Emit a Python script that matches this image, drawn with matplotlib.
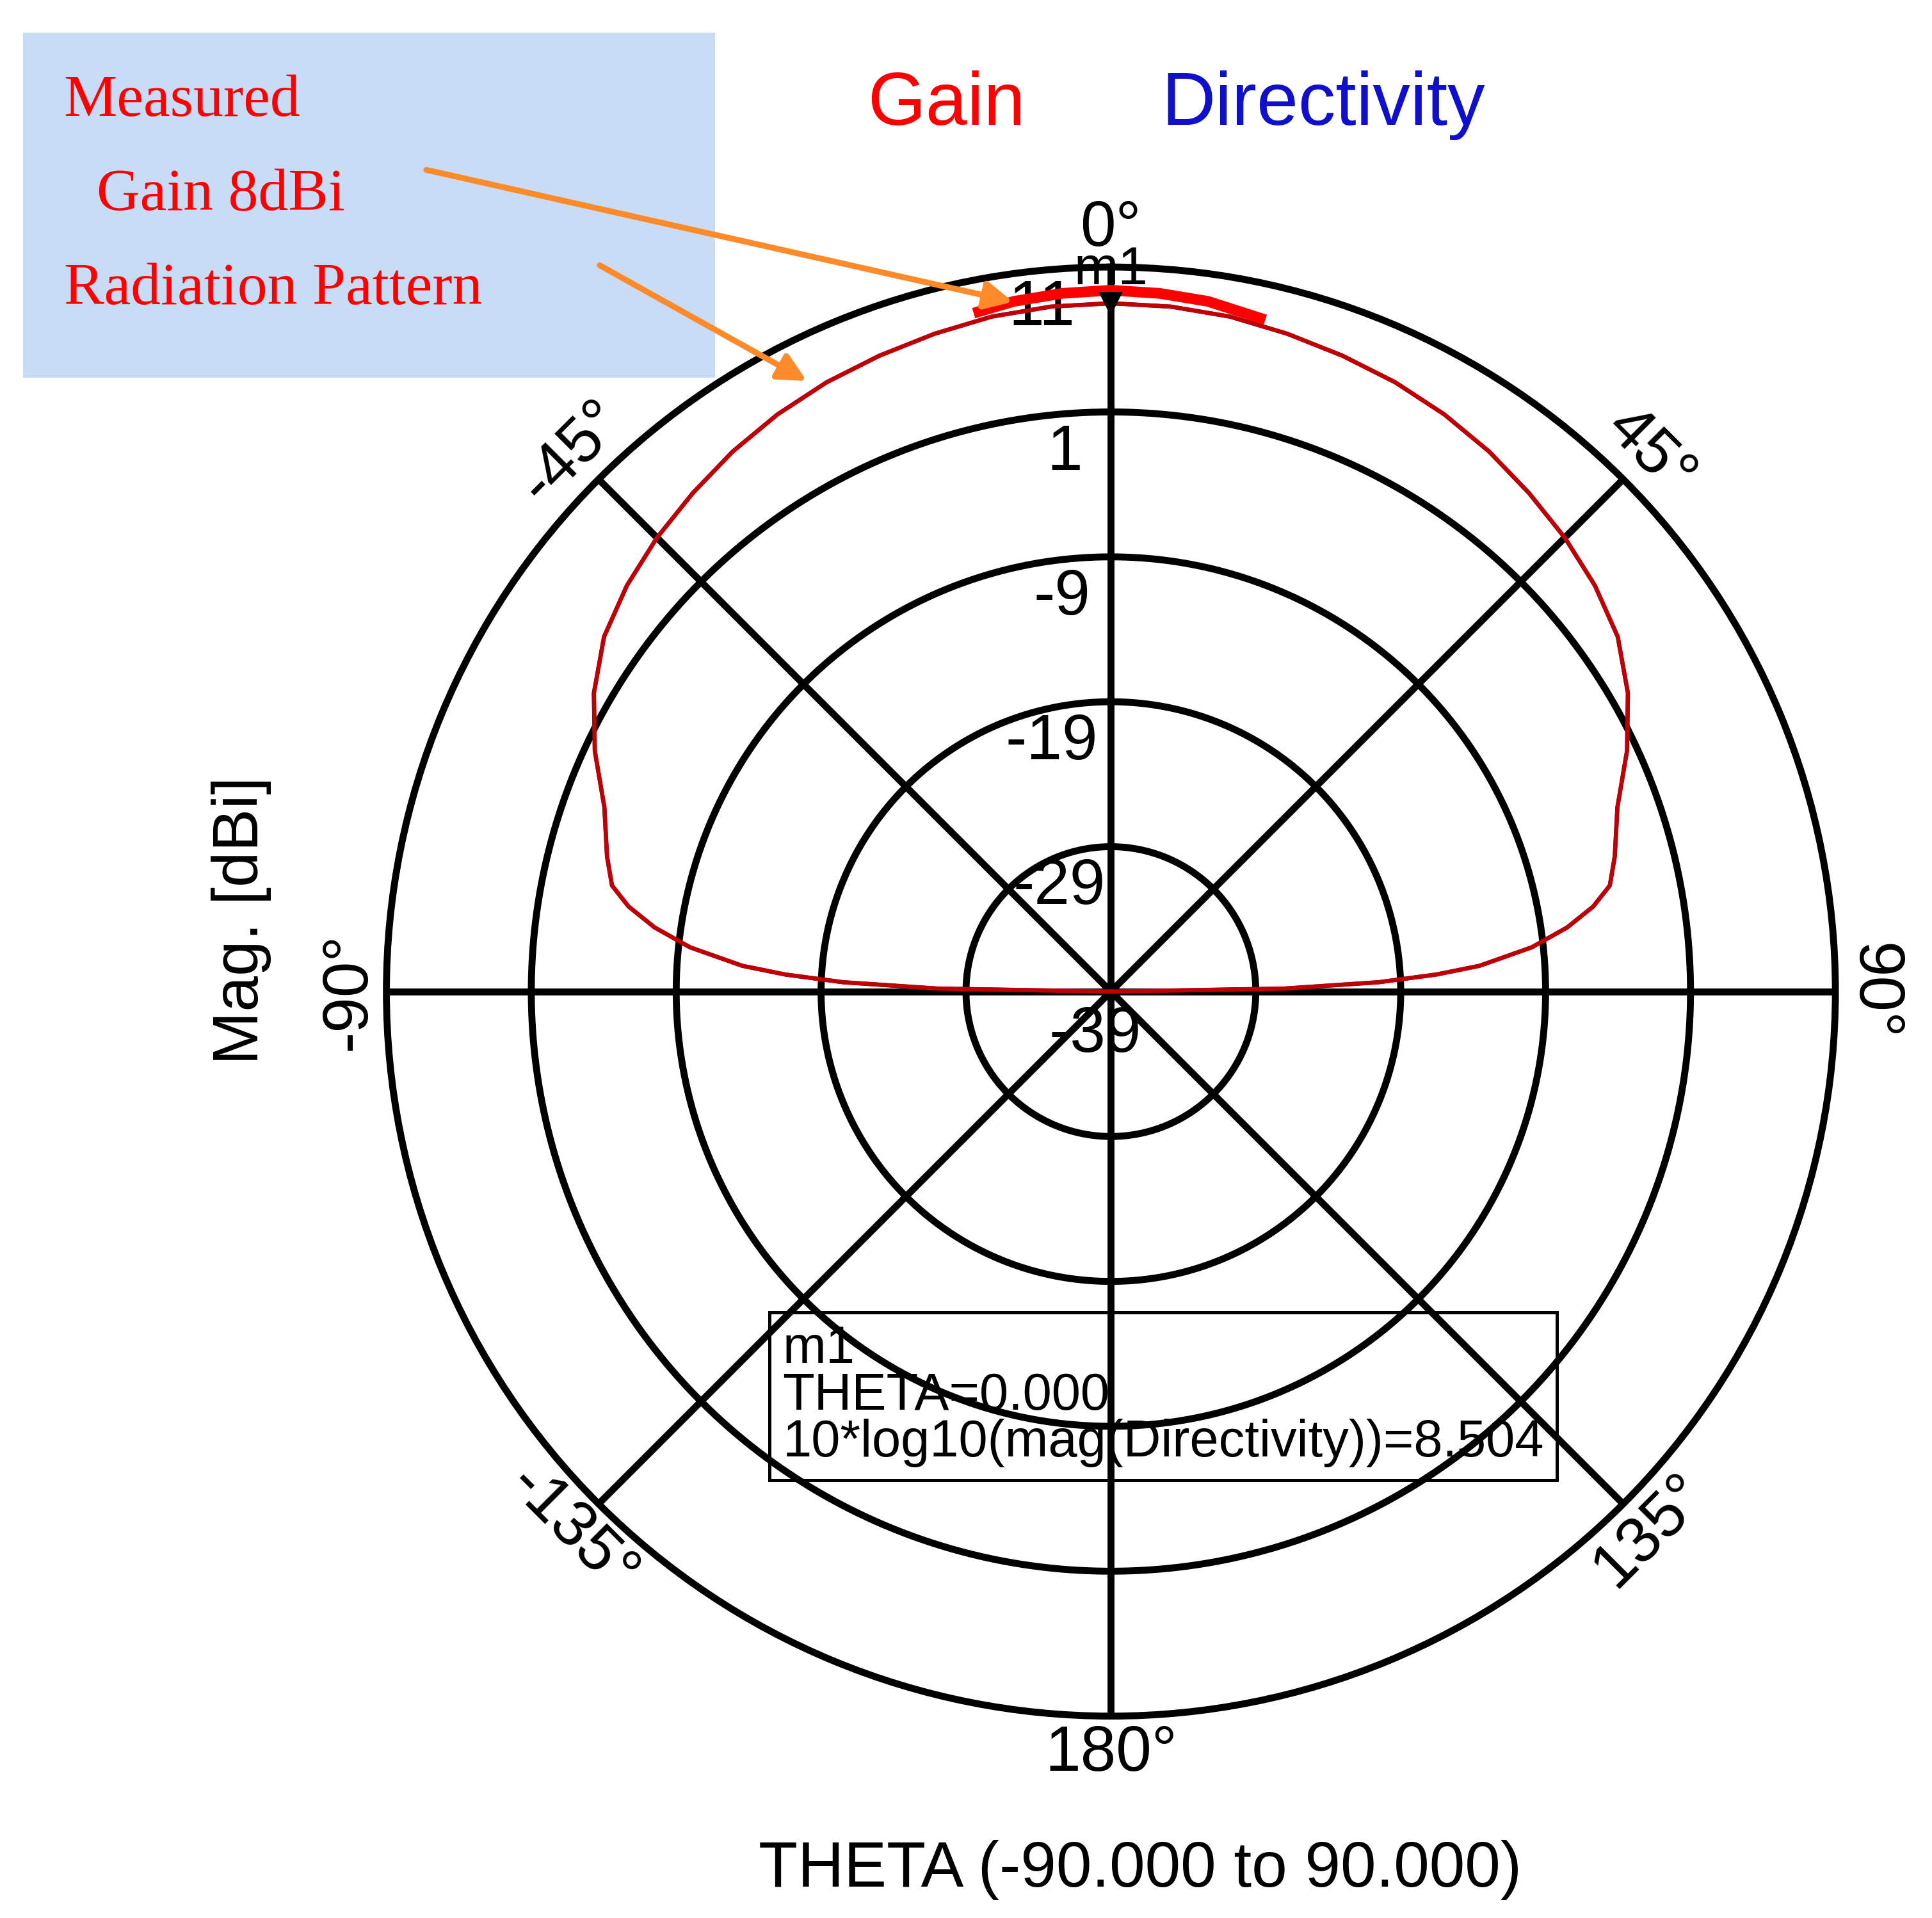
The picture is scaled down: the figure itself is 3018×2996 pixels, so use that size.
import numpy as np
import matplotlib.pyplot as plt
from matplotlib.patches import Rectangle, FancyArrowPatch

# pattern (theta in deg, magnitude in dBi), symmetric half
half_theta = [0, 5, 10, 15, 20, 25, 30, 35, 40, 45, 50, 55, 60, 65, 70, 75, 78,
              80, 82, 84, 86, 87, 88, 89, 90]
half_mag = [8.5, 8.45, 8.3, 8.0, 7.7, 7.4, 7.0, 6.5, 5.9, 5.3, 4.6, 3.7, 2.2, 0.3, -1.8,
            -3.0, -3.8, -5.2, -7.2, -9.8, -13.5, -16.5, -20.5, -27, -39]
theta_deg = [-t for t in half_theta[::-1]] + half_theta[1:]
mag_db = half_mag[::-1] + half_mag[1:]
gain_theta = [-11, -8, -4, 0, 4, 8, 12.5]
gain_mag = [8.8, 9.1, 9.3, 9.4, 9.3, 9.1, 8.6]

r_min, r_max = -39, 11
r_ticks = [-29, -19, -9, 1, 11]
r_labels = ["-39", "-29", "-19", "-9", "1", "11"]
ang_ticks = [0, 45, 90, 135, 180, -135, -90, -45]
ang_labels = ["0°", "45°", "90°", "135°", "180°", "-135°", "-90°", "-45°"]

fig = plt.figure(figsize=(10.06, 9.987), dpi=300)
plt.rcParams['font.family'] = ['Liberation Sans', 'DejaVu Sans']
ax = fig.add_axes([0.2, 0.105, 0.75, 0.756], projection="polar")
ax.set_theta_zero_location("N")
ax.set_theta_direction(-1)
ax.set_ylim(r_min, r_max)
ax.set_yticks([])
ax.set_xticks([])
ax.grid(False)
ax.spines["polar"].set_linewidth(2.6)

# rings and spokes
tt = np.linspace(0, 2 * np.pi, 400)
for r in r_ticks[:-1]:
    ax.plot(tt, np.full_like(tt, r), color="black", lw=2.6)
for a in [0, 45, 90, 135]:
    ax.plot(np.radians([a, a]), [r_min, r_max], color="black", lw=2.6)
    ax.plot(np.radians([a + 180, a + 180]), [r_min, r_max], color="black", lw=2.6)

# radial labels
for i, lab in enumerate(r_labels):
    if i == 0:
        ax.text(np.radians(200), r_min + 3.2, lab, fontsize=24, ha="center", va="center")
    else:
        ax.text(np.radians(-3), r_min + 10 * i - 2.8, lab, fontsize=24,
                ha="right", va="center")

# angle labels
for a, lab in zip(ang_ticks, ang_labels):
    rot = -a
    if a == 180:
        rot = 0
    if abs(a) == 135:
        rot = -a + 180
    ax.text(np.radians(a), r_max + 2.6, lab, fontsize=24, ha="center", va="center",
            rotation=rot, rotation_mode="anchor")

th = np.radians(theta_deg)
ax.plot(th, mag_db, color="blue", lw=1.5, zorder=4)
ax.plot(th, mag_db, color="#c00000", lw=1.6, zorder=5)
ax.plot(np.radians(gain_theta), gain_mag, color="red", lw=4, zorder=6)

# marker m1
ax.plot([0], [8.5], marker="v", color="black", markersize=7, zorder=7)
ax.text(0, 10.8, "m1", fontsize=20, ha="center", va="center", zorder=7)

# marker box
fig.text(0.405, 0.235, "m1\nTHETA=0.000\n10*log10(mag(Directivity))=8.504", fontsize=19.5,
         va="bottom", ha="left", linespacing=0.95,
         bbox=dict(facecolor="none", edgecolor="black", lw=1.2, boxstyle="square,pad=0.25"))

# axis labels and titles
fig.text(0.125, 0.52, "Mag. [dBi]", rotation=90, fontsize=24, ha="center", va="center")
fig.text(0.59, 0.025, "THETA (-90.000 to 90.000)", fontsize=24, ha="center", va="center")
fig.text(0.49, 0.945, "Gain", color="red", fontsize=28, ha="center", va="center")
fig.text(0.685, 0.945, "Directivity", color="#1010cc", fontsize=28, ha="center", va="center")

# annotation box
fig.add_artist(Rectangle((0.012, 0.803), 0.358, 0.18, transform=fig.transFigure,
                         facecolor="#c9dcf5", edgecolor="none", zorder=1))
serif = ["Liberation Serif", "DejaVu Serif"]
fig.text(0.033, 0.947, "Measured", color="red", fontsize=22.5, family=serif, va="center", zorder=2)
fig.text(0.05, 0.898, "Gain 8dBi", color="red", fontsize=22.5, family=serif, va="center", zorder=2)
fig.text(0.033, 0.849, "Radiation Pattern", color="red", fontsize=22.5, family=serif,
         va="center", zorder=2)
for start, end in [((0.218, 0.912), (0.527, 0.842)), ((0.308, 0.863), (0.42, 0.8))]:
    fig.add_artist(FancyArrowPatch(start, end, transform=fig.transFigure, arrowstyle="-|>",
                                   color="#ff8a2a", lw=2.2, mutation_scale=22, zorder=3))

fig.savefig("out.png", dpi=300, facecolor="white")
